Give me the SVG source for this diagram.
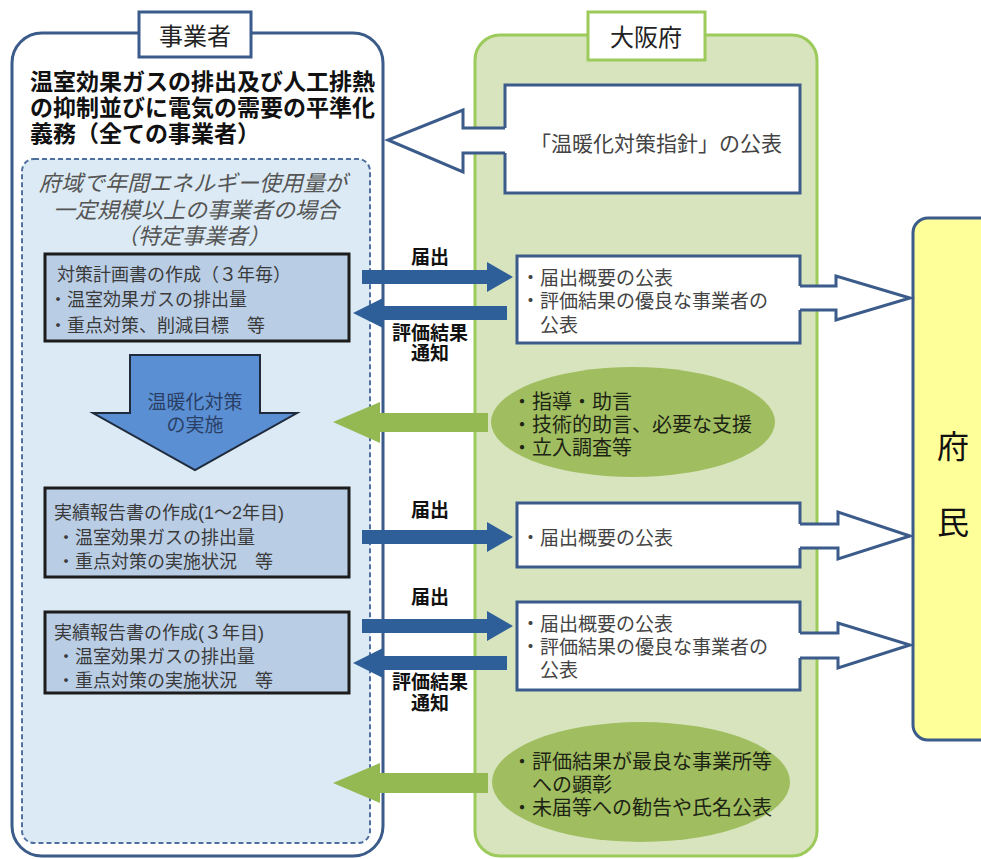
<svg xmlns="http://www.w3.org/2000/svg" width="981" height="859" viewBox="0 0 981 859">
<defs>
<style>
text{font-family:"Liberation Sans","Noto Sans CJK JP","Noto Sans CJK SC",sans-serif;dominant-baseline:central}
.title{font-size:23px;font-weight:bold;fill:#111}
.lbl{font-size:24px;fill:#222;text-anchor:middle}
.ital{font-size:22px;font-style:italic;fill:#555;text-anchor:middle}
.bx{fill:#b9cde5;stroke:#1c1c1c;stroke-width:3}
.bt{font-size:18px;fill:#3a3a3a}
.rb{fill:#fff;stroke:#3b5b8a;stroke-width:3}
.rt{font-size:19px;fill:#444}
.et{font-size:20px;fill:#1e2414}
.el{fill:#a0be60}
.ba{fill:#2f5f98}
.ga{fill:#94b952}
.hf{fill:#fff;stroke:none}
.hs{fill:none;stroke:#3b5b8a;stroke-width:3;stroke-linejoin:miter}
.al{font-size:19px;font-weight:bold;fill:#111;text-anchor:middle}
</style>
</defs>
<rect width="981" height="859" fill="#fff"/>

<g id="jigyosha">
<rect x="12" y="33" width="371" height="823" rx="30" fill="#fff" stroke="#3b5b8a" stroke-width="3"/>
<rect x="139" y="12" width="112" height="45" fill="#fff" stroke="#3b5b8a" stroke-width="3"/>
<text class="lbl" x="195" y="36">事業者</text>
<text class="title"><tspan x="30" y="82">温室効果ガスの排出及び人工排熱</tspan><tspan x="30" y="108">の抑制並びに電気の需要の平準化</tspan><tspan x="30" y="134">義務（全ての事業者）</tspan></text>
</g>

<g id="tokutei">
<rect x="22" y="159" width="348" height="684" rx="12" fill="#dbeaf4" stroke="#4f6f9f" stroke-width="2" stroke-dasharray="5,3"/>
<text class="ital"><tspan x="193" y="183">府域で年間エネルギー使用量が</tspan><tspan x="196" y="210">一定規模以上の事業者の場合</tspan><tspan x="193" y="236">（特定事業者）</tspan></text>
</g>

<g id="keikaku">
<rect class="bx" x="45" y="254" width="304" height="87"/>
<text class="bt"><tspan x="57" y="275">対策計画書の作成（３年毎）</tspan><tspan x="49" y="300">・温室効果ガスの排出量</tspan><tspan x="49" y="326">・重点対策、削減目標　等</tspan></text>
</g>

<g id="jisshi">
<polygon points="130,355 260,355 260,413 297,413 195,470 93,413 130,413" fill="#5a8fd3" stroke="#1f2b3c" stroke-width="2"/>
<text style="font-size:19px;fill:#2a3f66;text-anchor:middle"><tspan x="195" y="402">温暖化対策</tspan><tspan x="195" y="425">の実施</tspan></text>
</g>

<g id="jisseki12">
<rect class="bx" x="45" y="488" width="304" height="89"/>
<text class="bt"><tspan x="54" y="513">実績報告書の作成(1～2年目)</tspan><tspan x="57" y="538">・温室効果ガスの排出量</tspan><tspan x="57" y="562">・重点対策の実施状況　等</tspan></text>
</g>

<g id="jisseki3">
<rect class="bx" x="45" y="612" width="304" height="81"/>
<text class="bt"><tspan x="54" y="633">実績報告書の作成(３年目)</tspan><tspan x="57" y="657">・温室効果ガスの排出量</tspan><tspan x="57" y="681">・重点対策の実施状況　等</tspan></text>
</g>

<g id="osakafu">
<rect x="475" y="35" width="342" height="821" rx="25" fill="#d7e4bd" stroke="#9ccb5b" stroke-width="3"/>
<rect x="588" y="12" width="117" height="48" fill="#fff" stroke="#9ccb5b" stroke-width="3"/>
<text class="lbl" x="646" y="37">大阪府</text>
</g>

<g id="shishin">
<rect class="rb" x="505" y="85" width="295" height="108"/>
<text x="530" y="143" style="font-size:21px;fill:#444">「温暖化対策指針」の公表</text>
</g>

<g id="kohyo1">
<rect class="rb" x="517" y="256" width="283" height="87"/>
<text class="rt"><tspan x="521" y="278">・届出概要の公表</tspan><tspan x="521" y="301">・評価結果の優良な事業者の</tspan><tspan x="540" y="325">公表</tspan></text>
</g>

<g id="shido">
<ellipse class="el" cx="633" cy="422" rx="142" ry="55"/>
<text class="et"><tspan x="512" y="402">・指導・助言</tspan><tspan x="512" y="425">・技術的助言、必要な支援</tspan><tspan x="512" y="448">・立入調査等</tspan></text>
</g>

<g id="kohyo2">
<rect class="rb" x="517" y="503" width="283" height="64"/>
<text class="rt" x="521" y="538">・届出概要の公表</text>
</g>

<g id="kohyo3">
<rect class="rb" x="517" y="602" width="283" height="88"/>
<text class="rt"><tspan x="521" y="624">・届出概要の公表</tspan><tspan x="521" y="647">・評価結果の優良な事業者の</tspan><tspan x="540" y="670">公表</tspan></text>
</g>

<g id="kensho">
<ellipse class="el" cx="641" cy="782" rx="149" ry="60"/>
<text class="et"><tspan x="512" y="762">・評価結果が最良な事業所等</tspan><tspan x="532" y="785">への顕彰</tspan><tspan x="512" y="808">・未届等への勧告や氏名公表</tspan></text>
</g>

<g id="fumin">
<rect x="913" y="218" width="90" height="522" rx="15" fill="#ffff99" stroke="#3b5b8a" stroke-width="3"/>
<text style="font-size:32px;fill:#111;text-anchor:middle"><tspan x="953" y="447">府</tspan><tspan x="953" y="523">民</tspan></text>
</g>

<g id="connectors">
<path class="hf" d="M507,128 L463,128 L463,110 L388,140 L463,172 L463,153 L507,153 Z"/>
<path class="hs" d="M505,128 L463,128 L463,110 L388,140 L463,172 L463,153 L505,153"/>
<path class="hf" d="M798,286 L836,286 L836,276 L910,298 L836,320 L836,310 L798,310 Z"/>
<path class="hs" d="M800,286 L836,286 L836,276 L910,298 L836,320 L836,310 L800,310"/>
<path class="hf" d="M798,524 L838,524 L838,512 L910,536 L838,559 L838,548 L798,548 Z"/>
<path class="hs" d="M800,524 L838,524 L838,512 L910,536 L838,559 L838,548 L800,548"/>
<path class="hf" d="M798,633 L838,633 L838,623 L910,645 L838,668 L838,658 L798,658 Z"/>
<path class="hs" d="M800,633 L838,633 L838,623 L910,645 L838,668 L838,658 L800,658"/>

<polygon class="ba" points="362,270 487,270 487,262 513,277 487,292 487,284 362,284"/>
<polygon class="ba" points="507,306 383,306 383,298 353,313 383,328 383,320 507,320"/>
<polygon class="ba" points="362,530 487,530 487,522 513,537 487,552 487,544 362,544"/>
<polygon class="ba" points="362,619 487,619 487,611 513,626 487,641 487,633 362,633"/>
<polygon class="ba" points="507,656 383,656 383,648 353,663 383,678 383,670 507,670"/>

<polygon class="ga" points="488,413 380,413 380,402 333,422 380,443 380,432 488,432"/>
<polygon class="ga" points="488,773 380,773 380,763 333,783 380,803 380,793 488,793"/>

<text class="al" x="430" y="257">届出</text>
<text class="al"><tspan x="430" y="333">評価結果</tspan><tspan x="430" y="353">通知</tspan></text>
<text class="al" x="430" y="510">届出</text>
<text class="al" x="430" y="597">届出</text>
<text class="al"><tspan x="430" y="682">評価結果</tspan><tspan x="430" y="703">通知</tspan></text>
</g>
</svg>
